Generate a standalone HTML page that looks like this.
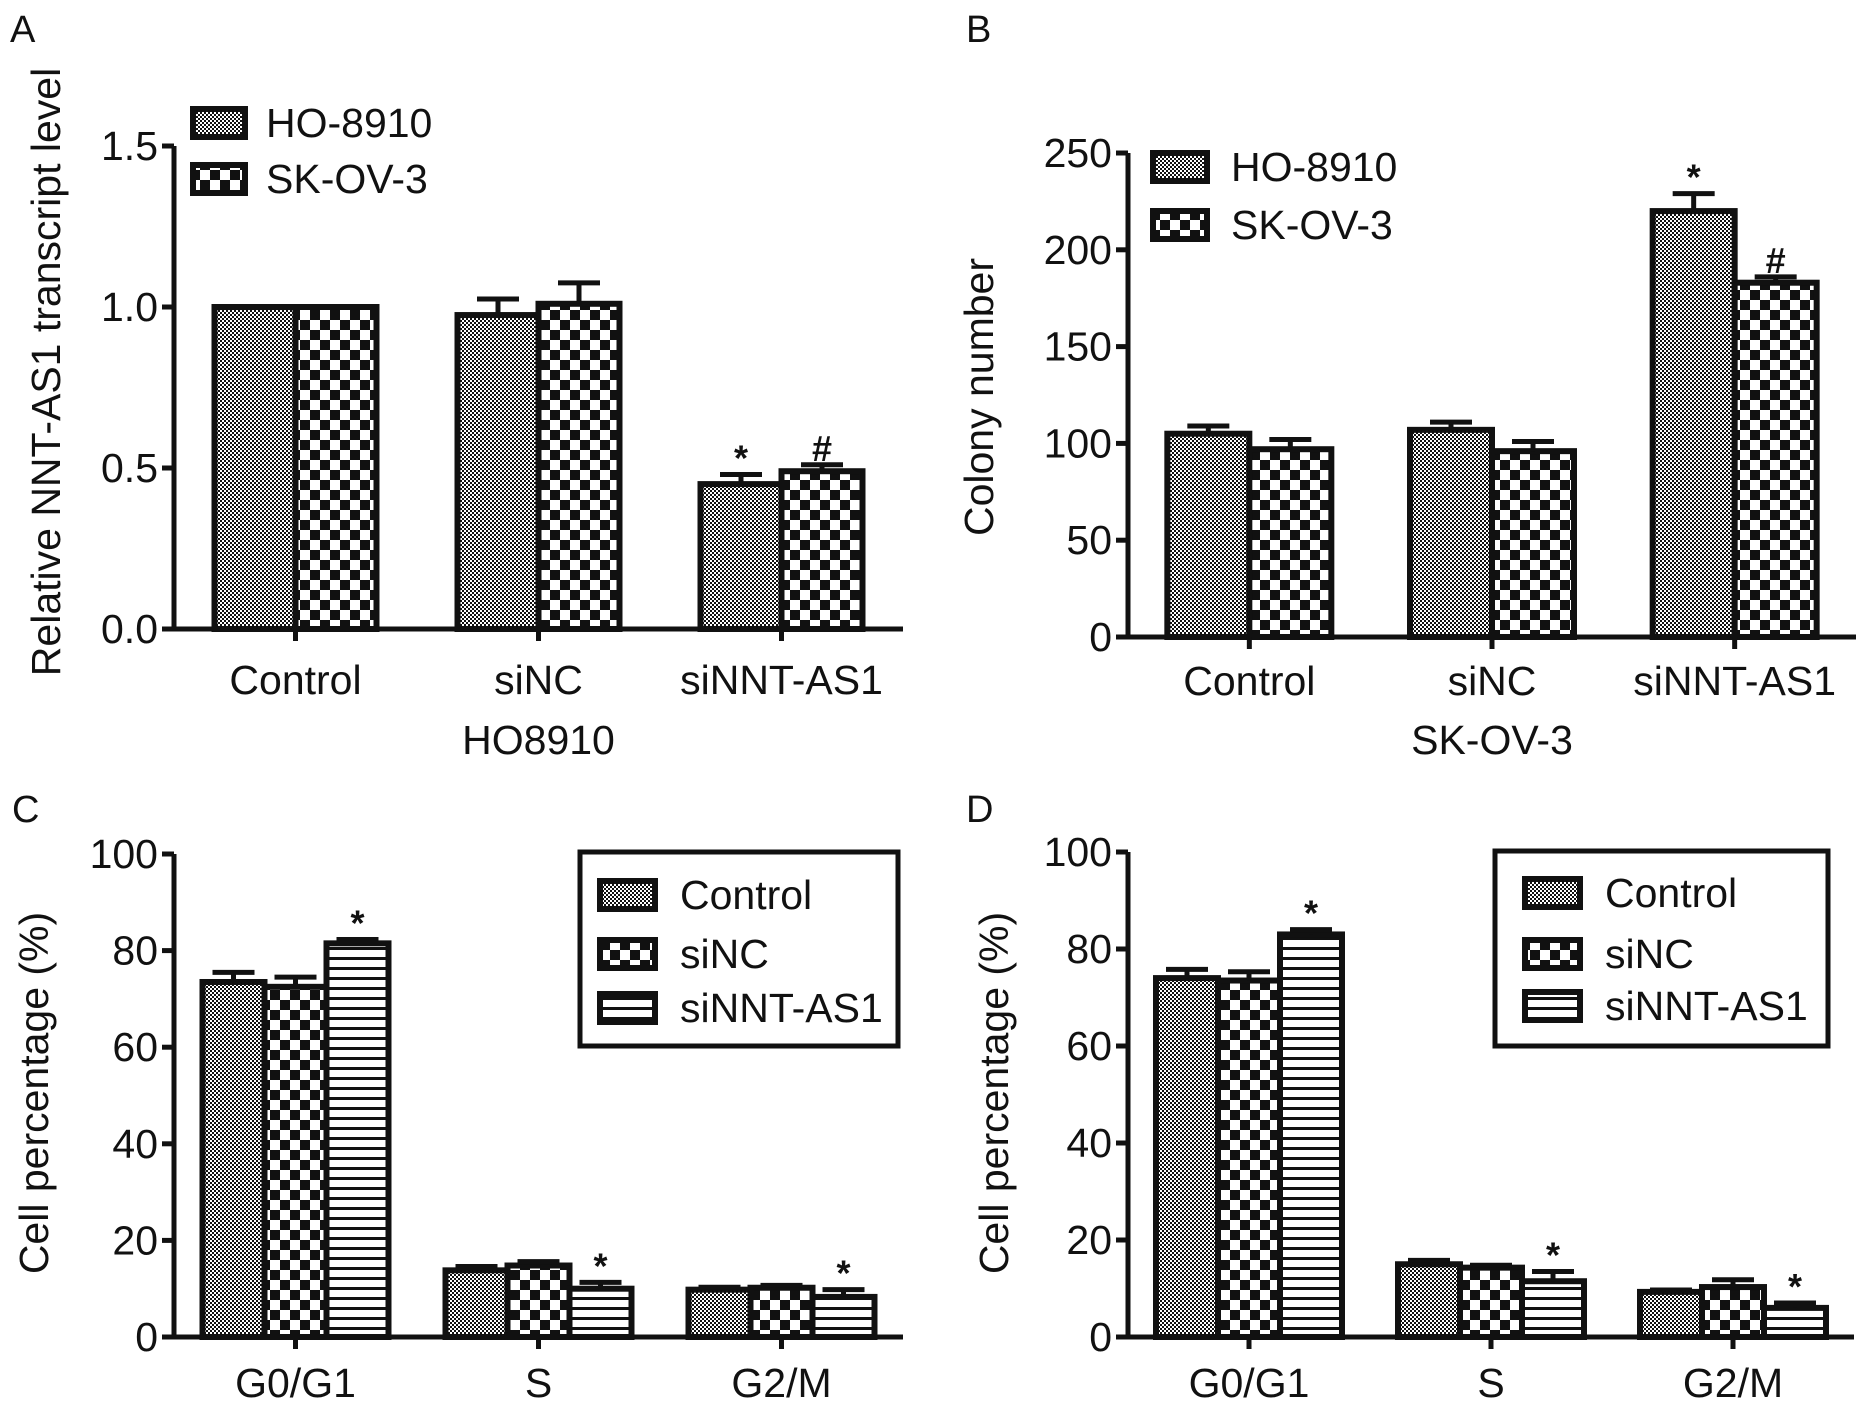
<!DOCTYPE html>
<html><head><meta charset="utf-8"><style>
html,body{margin:0;padding:0;background:#fff;}
svg{display:block;font-family:"Liberation Sans",Arial,sans-serif;}
</style></head><body>
<svg id="fig" width="1863" height="1406" viewBox="0 0 1863 1406" xmlns="http://www.w3.org/2000/svg">
<defs>
<pattern id="pFine" width="4" height="4" patternUnits="userSpaceOnUse"><rect width="4" height="4" fill="#fff"/><rect width="2" height="2" fill="#111"/><rect x="2" y="2" width="2" height="2" fill="#111"/></pattern>
<pattern id="pCheck" width="20" height="20" patternUnits="userSpaceOnUse"><rect width="20" height="20" fill="#fff"/><rect width="10" height="10" fill="#111"/><rect x="10" y="10" width="10" height="10" fill="#111"/></pattern>
<pattern id="pStripe" width="10" height="10" patternUnits="userSpaceOnUse"><rect width="10" height="10" fill="#fff"/><rect y="7" width="10" height="3" fill="#111"/></pattern>
</defs>
</svg>
<script>
// ---- Panel A data ----
const aCategories = ["Control", "siNC", "siNNT-AS1"];
const aSeriesNames = ["HO-8910", "SK-OV-3"];
const aHO = [1.0, 0.975, 0.45];
const aSK = [1.0, 1.01, 0.49];
const aHOerr = [0, 0.05, 0.03];
const aSKerr = [0, 0.065, 0.02];
const aHOmark = ["", "", "*"];
const aSKmark = ["", "", "#"];
const aTicks = ["0.0", "0.5", "1.0", "1.5"];
const aTickVals = [0, 0.5, 1.0, 1.5];
// ---- Panel B data ----
const bCategories = ["Control", "siNC", "siNNT-AS1"];
const bSeriesNames = ["HO-8910", "SK-OV-3"];
const bHO = [105, 107, 220];
const bSK = [97, 96, 183];
const bHOerr = [4, 4, 9];
const bSKerr = [5, 5, 3];
const bHOmark = ["", "", "*"];
const bSKmark = ["", "", "#"];
const bTicks = ["0", "50", "100", "150", "200", "250"];
const bTickVals = [0, 50, 100, 150, 200, 250];
// ---- Panel C data ----
const cCategories = ["G0/G1", "S", "G2/M"];
const cSeriesNames = ["Control", "siNC", "siNNT-AS1"];
const cControl = [73.5, 13.8, 9.8];
const cSiNC = [72.5, 14.8, 10.2];
const cSiNNT = [81.5, 10, 8.3];
const cControlErr = [2, 0.8, 0.5];
const cSiNCErr = [2, 0.8, 0.5];
const cSiNNTErr = [0.8, 1.3, 1.5];
const cSiNNTmark = ["*", "*", "*"];
const cTicks = ["0", "20", "40", "60", "80", "100"];
const cTickVals = [0, 20, 40, 60, 80, 100];
// ---- Panel D data ----
const dCategories = ["G0/G1", "S", "G2/M"];
const dSeriesNames = ["Control", "siNC", "siNNT-AS1"];
const dControl = [74, 15, 9.3];
const dSiNC = [73.5, 14.3, 10.3];
const dSiNNT = [83, 11.5, 6];
const dControlErr = [1.8, 0.8, 0.4];
const dSiNCErr = [1.8, 0.5, 1.5];
const dSiNNTErr = [1, 2, 1];
const dSiNNTmark = ["*", "*", "*"];
const dTicks = ["0", "20", "40", "60", "80", "100"];
const dTickVals = [0, 20, 40, 60, 80, 100];

const NS = "http://www.w3.org/2000/svg";
const svg = document.getElementById("fig");
const FS = 41;
function mk(tag, attrs, parent, text) {
  const e = document.createElementNS(NS, tag);
  for (const k in attrs) e.setAttribute(k, attrs[k]);
  if (text !== undefined) e.textContent = text;
  (parent || svg).appendChild(e);
  return e;
}

function drawPanel(cfg) {
  const g = mk("g", {});
  
  
  const ymin = cfg.tickVals[0], ymax = cfg.tickVals[cfg.tickVals.length - 1];
  const yS = v => cfg.y0 - (v - ymin) / (ymax - ymin) * (cfg.y0 - cfg.yTop);
  const nS = cfg.series.length, nC = cfg.categories.length;
  const groupW = (cfg.xEnd - cfg.xStart) / nC;
  const bw = cfg.barW;
  const xS = (ci, si) => cfg.xStart + groupW * (ci + 0.5) + (si - nS / 2) * bw;

  const L = mk("text", {x: cfg.letterX, y: cfg.letterY, "font-size": 38, fill: "#111"}, g, cfg.letter);
  
  

  cfg.series.forEach((s, si) => {
    s.values.forEach((v, ci) => {
      const x = xS(ci, si), yt = yS(v);
      const r = mk("rect", {x: x, y: yt, width: bw, height: cfg.y0 - yt, fill: "url(#" + s.pat + ")", stroke: "#111", "stroke-width": 6}, g);
      
      
      const e = s.err[ci];
      const cx = x + bw / 2;
      let top = yt;
      if (e > 0) {
        const ye = yS(v + e);
        const eg = mk("g", {stroke: "#111", "stroke-width": 5}, g);
        
        
        mk("line", {x1: cx, y1: yt, x2: cx, y2: ye}, eg);
        mk("line", {x1: cx - 21, y1: ye, x2: cx + 21, y2: ye}, eg);
        top = ye;
      }
      if (s.marks && s.marks[ci]) {
        const t = mk("text", {x: cx, y: top - 4, "font-size": 36, "font-weight": "bold", "text-anchor": "middle", fill: "#111"}, g, s.marks[ci]);
        
        
      }
    });
  });

  const ya = mk("line", {x1: cfg.axisX, y1: cfg.yTop, x2: cfg.axisX, y2: cfg.y0, stroke: "#111", "stroke-width": 5}, g);
  
  
  const xa = mk("line", {x1: cfg.axisX - 12, y1: cfg.y0, x2: cfg.xEnd, y2: cfg.y0, stroke: "#111", "stroke-width": 5}, g);
  
  
  cfg.tickVals.forEach((tv, i) => {
    const y = yS(tv);
    mk("line", {x1: cfg.axisX - 12, y1: y, x2: cfg.axisX, y2: y, stroke: "#111", "stroke-width": 5}, g);
    const t = mk("text", {x: cfg.axisX - 16, y: y + 14, "font-size": FS, "text-anchor": "end", fill: "#111"}, g, cfg.ticks[i]);
    
    
  });
  cfg.categories.forEach((c, ci) => {
    const cx = cfg.xStart + groupW * (ci + 0.5);
    mk("line", {x1: cx, y1: cfg.y0, x2: cx, y2: cfg.y0 + 12, stroke: "#111", "stroke-width": 5}, g);
    const t = mk("text", {x: cx, y: cfg.catY, "font-size": FS, "text-anchor": "middle", fill: "#111"}, g, c);
    
    
  });
  if (cfg.xTitle) {
    const t = mk("text", {x: cfg.xStart + (cfg.xEnd - cfg.xStart) / 2, y: cfg.xTitleY, "font-size": FS, "text-anchor": "middle", fill: "#111"}, g, cfg.xTitle);
    
    
  }
  const yt = mk("text", {x: 0, y: 0, "font-size": FS, "text-anchor": "middle", fill: "#111", transform: "translate(" + cfg.yTitleX + "," + cfg.yTitleY + ") rotate(-90)"}, g, cfg.yTitle);
  
  

  const lg = mk("g", {}, g);
  
  
  if (cfg.legendBox) {
    const b = cfg.legendBox;
    mk("rect", {x: b[0], y: b[1], width: b[2], height: b[3], fill: "#fff", stroke: "#111", "stroke-width": 5}, lg);
  }
  cfg.series.forEach((s, si) => {
    const ly = cfg.legendY[si];
    const ent = mk("g", {}, lg);
    
    
    mk("rect", {x: cfg.legendX, y: ly - 14, width: cfg.legendPW, height: 28, fill: "url(#" + s.pat + ")", stroke: "#111", "stroke-width": 6}, ent);
    mk("text", {x: cfg.legendTX, y: ly + 14, "font-size": FS, fill: "#111"}, ent, s.name);
  });
}

drawPanel({
  name: "panel-a", letter: "A", letterX: 10, letterY: 42,
  axisX: 174, yTop: 146, y0: 629, xStart: 174, xEnd: 903, barW: 81,
  categories: aCategories, ticks: aTicks, tickVals: aTickVals,
  series: [
    {name: aSeriesNames[0], values: aHO, err: aHOerr, marks: aHOmark, pat: "pFine"},
    {name: aSeriesNames[1], values: aSK, err: aSKerr, marks: aSKmark, pat: "pCheck"}],
  catY: 694, xTitle: "HO8910", xTitleY: 754,
  yTitle: "Relative NNT-AS1 transcript level", yTitleX: 60, yTitleY: 372,
  legendX: 193, legendY: [123, 179], legendPW: 52, legendTX: 266
});
drawPanel({
  name: "panel-b", letter: "B", letterX: 966, letterY: 42,
  axisX: 1128, yTop: 153, y0: 637, xStart: 1128, xEnd: 1856, barW: 82,
  categories: bCategories, ticks: bTicks, tickVals: bTickVals,
  series: [
    {name: bSeriesNames[0], values: bHO, err: bHOerr, marks: bHOmark, pat: "pFine"},
    {name: bSeriesNames[1], values: bSK, err: bSKerr, marks: bSKmark, pat: "pCheck"}],
  catY: 695, xTitle: "SK-OV-3", xTitleY: 754,
  yTitle: "Colony number", yTitleX: 993, yTitleY: 397,
  legendX: 1153, legendY: [167, 225], legendPW: 54, legendTX: 1231
});
drawPanel({
  name: "panel-c", letter: "C", letterX: 12, letterY: 822,
  axisX: 174, yTop: 854, y0: 1337, xStart: 174, xEnd: 903, barW: 62,
  categories: cCategories, ticks: cTicks, tickVals: cTickVals,
  series: [
    {name: cSeriesNames[0], values: cControl, err: cControlErr, pat: "pFine"},
    {name: cSeriesNames[1], values: cSiNC, err: cSiNCErr, pat: "pCheck"},
    {name: cSeriesNames[2], values: cSiNNT, err: cSiNNTErr, marks: cSiNNTmark, pat: "pStripe"}],
  catY: 1397,
  yTitle: "Cell percentage (%)", yTitleX: 48, yTitleY: 1093,
  legendBox: [580, 852, 318, 194],
  legendX: 600, legendY: [895, 954, 1008], legendPW: 55, legendTX: 680
});
drawPanel({
  name: "panel-d", letter: "D", letterX: 966, letterY: 822,
  axisX: 1128, yTop: 852, y0: 1337, xStart: 1128, xEnd: 1854, barW: 62,
  categories: dCategories, ticks: dTicks, tickVals: dTickVals,
  series: [
    {name: dSeriesNames[0], values: dControl, err: dControlErr, pat: "pFine"},
    {name: dSeriesNames[1], values: dSiNC, err: dSiNCErr, pat: "pCheck"},
    {name: dSeriesNames[2], values: dSiNNT, err: dSiNNTErr, marks: dSiNNTmark, pat: "pStripe"}],
  catY: 1397,
  yTitle: "Cell percentage (%)", yTitleX: 1008, yTitleY: 1093,
  legendBox: [1495, 851, 333, 195],
  legendX: 1525, legendY: [893, 954, 1006], legendPW: 55, legendTX: 1605
});
</script>
</body></html>
